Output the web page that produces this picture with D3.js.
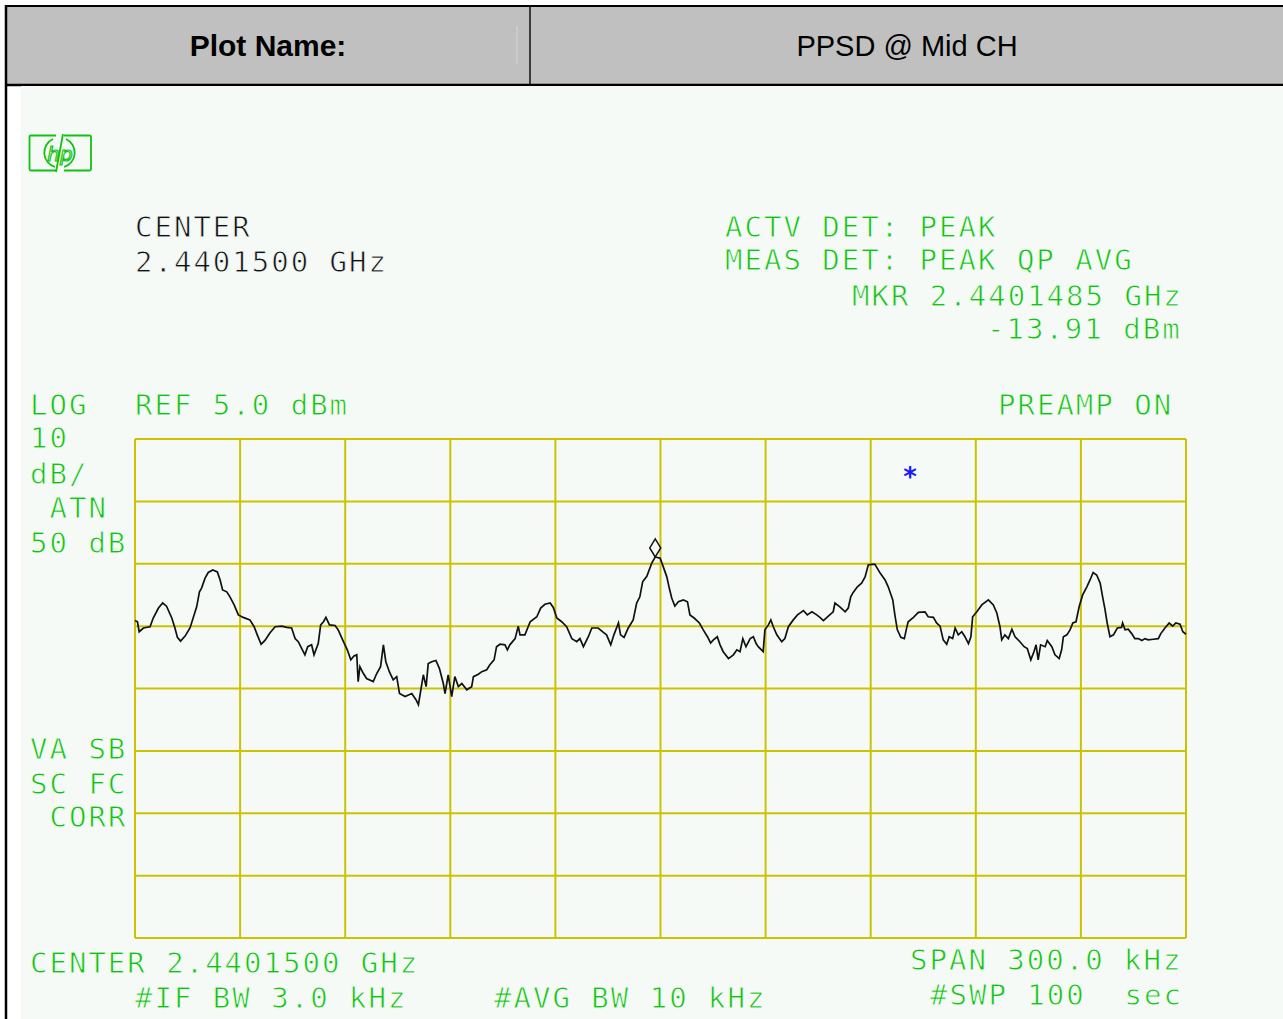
<!DOCTYPE html>
<html>
<head>
<meta charset="utf-8">
<script src="https://cdn.jsdelivr.net/npm/d3@7"></script>
<style>
  html, body { margin: 0; padding: 0; background: #ffffff; }
  svg { display: block; }
</style>
</head>
<body>
<div id="chart"></div>
<script>
// ---------------- data ----------------
// Frequency offset from center (kHz), center = 2.4401500 GHz, span 300 kHz
const freqKHz = [
  -150.0,-149.3,-148.8,-147.6,-145.7,-144.8,-143.3,-142.1,-141.0,-139.5,
  -138.6,-137.9,-137.0,-135.7,-134.3,-133.4,-132.4,-131.6,-131.0,-130.0,
  -129.1,-127.8,-126.5,-125.7,-125.0,-123.8,-122.9,-121.7,-120.5,-119.1,
  -117.2,-116.0,-115.1,-114.0,-112.9,-111.5,-110.0,-108.1,-106.7,-105.3,
  -104.3,-103.4,-102.4,-101.5,-100.7,-99.6,-98.9,-97.7,-97.0,-96.2,
  -95.5,-94.5,-92.9,-92.0,-90.5,-89.4,-88.4,-87.5,-86.7,-86.3,
  -85.8,-84.8,-83.9,-82.0,-81.0,-79.9,-79.1,-78.4,-77.4,-76.3,
  -75.3,-74.5,-72.9,-71.0,-69.8,-69.1,-68.4,-67.7,-66.9,-66.3,
  -65.3,-64.1,-63.1,-62.0,-61.5,-60.6,-59.6,-58.7,-57.7,-56.7,
  -55.3,-53.9,-53.4,-52.0,-51.0,-49.6,-48.7,-47.5,-46.8,-45.8,
  -44.4,-43.7,-43.0,-41.5,-40.6,-40.1,-38.7,-37.2,-35.3,-34.2,
  -33.0,-31.5,-30.6,-29.6,-28.2,-26.8,-25.3,-23.9,-23.0,-22.0,
  -20.6,-19.6,-17.8,-16.3,-15.4,-14.2,-13.3,-12.0,-11.4,-10.4,
  -9.2,-7.8,-6.8,-5.9,-5.1,-3.9,-2.5,-1.5,-0.1,0.8,
  1.8,2.5,3.2,4.1,5.1,6.5,7.7,8.4,9.6,11.1,
  12.2,13.4,14.3,15.1,16.2,17.0,17.9,19.4,20.8,21.8,
  22.7,23.5,24.4,25.6,26.5,27.3,27.9,29.3,29.8,30.8,
  31.5,32.2,33.2,34.6,35.5,36.5,37.9,39.1,40.8,41.9,
  43.2,44.6,45.5,46.5,47.9,49.3,49.8,51.2,52.7,53.6,
  54.3,55.0,56.2,57.4,58.4,59.3,60.3,61.2,62.7,64.1,
  65.0,66.3,66.9,67.6,68.6,69.6,70.3,70.7,72.2,73.6,
  75.5,76.4,77.9,78.8,79.8,80.7,81.7,82.4,83.4,84.1,
  85.0,86.0,86.9,87.9,88.6,89.1,90.3,91.7,93.6,95.0,
  96.0,96.9,97.4,98.3,99.3,100.3,101.2,102.6,103.8,104.7,
  105.7,106.6,107.2,107.8,108.5,109.8,110.4,111.7,112.6,113.8,
  114.5,115.0,116.0,116.9,117.7,118.6,119.5,120.5,121.7,122.6,
  123.5,124.5,125.5,126.2,126.9,127.5,128.3,129.3,130.4,131.6,
  131.9,132.6,133.5,134.5,135.4,136.4,137.4,138.3,139.2,140.7,
  142.1,142.8,144.0,145.2,146.2,147.1,148.3,149.1,150.0
];
// Trace level (dBm)
const levelDbm = [
  -24.1,-24.3,-25.9,-25.3,-25.1,-23.7,-22.1,-21.3,-21.8,-23.7,
  -25.3,-26.8,-27.4,-26.6,-25.3,-23.7,-21.9,-19.5,-18.9,-17.3,
  -16.4,-16.0,-16.3,-17.6,-19.2,-19.5,-20.3,-21.6,-23.2,-23.6,
  -24.0,-25.1,-26.4,-27.9,-27.3,-26.1,-25.1,-25.0,-25.2,-25.3,
  -27.0,-27.5,-28.6,-29.6,-28.3,-28.0,-29.6,-27.8,-24.8,-24.3,
  -23.6,-24.8,-24.9,-25.6,-27.5,-28.8,-30.4,-29.8,-29.6,-33.9,
  -31.5,-32.6,-33.4,-33.9,-32.6,-31.5,-28.0,-30.7,-32.3,-33.6,
  -33.1,-35.8,-36.3,-35.8,-36.8,-37.6,-35.2,-32.8,-34.7,-31.0,
  -30.7,-30.5,-31.8,-34.2,-35.8,-32.8,-36.3,-33.1,-34.7,-34.2,
  -35.2,-34.7,-33.1,-32.7,-32.3,-32.0,-31.2,-30.4,-28.3,-27.9,
  -28.0,-28.8,-28.0,-27.0,-25.0,-26.4,-26.4,-24.3,-23.5,-22.1,
  -21.5,-21.3,-22.0,-23.7,-24.3,-25.1,-27.0,-27.5,-27.0,-28.3,
  -26.7,-25.3,-25.3,-26.0,-26.4,-28.0,-26.4,-24.5,-26.4,-26.8,
  -25.3,-24.0,-21.3,-20.3,-17.9,-17.0,-14.9,-13.9,-14.1,-15.5,
  -17.1,-18.9,-20.5,-21.8,-21.1,-20.8,-21.1,-23.2,-23.7,-24.5,
  -25.6,-26.7,-27.7,-27.2,-26.7,-28.0,-29.1,-30.2,-29.6,-28.8,
  -29.1,-27.0,-28.3,-27.0,-26.7,-27.8,-28.3,-29.1,-25.6,-24.8,
  -24.0,-25.1,-26.4,-27.5,-27.0,-25.1,-24.0,-23.2,-22.5,-23.2,
  -22.7,-23.2,-23.6,-24.1,-23.4,-22.7,-21.3,-21.9,-22.7,-22.1,
  -20.3,-19.6,-18.7,-18.1,-17.1,-15.2,-15.1,-15.1,-16.5,-17.6,
  -18.7,-20.8,-23.2,-25.6,-26.8,-27.0,-25.2,-24.3,-23.6,-22.8,
  -22.7,-23.5,-23.6,-24.5,-25.0,-27.2,-27.9,-26.7,-27.0,-25.3,
  -26.4,-25.9,-26.7,-27.8,-26.7,-23.5,-22.7,-21.6,-20.8,-21.6,
  -22.9,-25.1,-27.2,-26.4,-27.0,-25.5,-26.7,-27.5,-28.3,-28.6,
  -30.4,-29.1,-28.0,-30.4,-28.0,-28.3,-27.3,-28.3,-29.6,-30.2,
  -28.8,-26.7,-26.4,-25.6,-24.5,-24.3,-21.9,-20.0,-18.7,-17.6,
  -16.4,-16.8,-18.1,-20.3,-22.4,-24.5,-26.7,-26.4,-25.3,-25.2,
  -24.5,-25.6,-25.5,-26.2,-27.0,-27.0,-27.3,-27.0,-27.2,-27.1,
  -27.0,-26.2,-25.3,-24.5,-25.0,-24.5,-24.7,-25.9,-26.3
];
const refLevel = 5.0;          // dBm (top of graticule)
const dbPerDiv = 10;
const yDivisions = 8;
const spanKHz = 300;
const xDivisions = 10;
const markerFreqKHz = -1.5;     // 2.4401485 GHz
const markerLevel = -13.91;     // dBm

const headerLabels = ["Plot Name:", "PPSD @ Mid CH"];

// ---------------- drawing ----------------
const W = 1283, H = 1019;
const GREEN = "#12c212", GRID = "#cbc300", PANEL = "#f5faf6";

const svg = d3.select("#chart").append("svg")
  .attr("width", W).attr("height", H)
  .attr("viewBox", `0 0 ${W} ${H}`);

svg.append("rect").attr("width", W).attr("height", H).attr("fill", "#ffffff");

// header table
svg.append("rect").attr("x", 7).attr("y", 6).attr("width", W - 7).attr("height", 78)
  .attr("fill", "#c0c0c0");
svg.append("line").attr("x1", 5).attr("x2", W).attr("y1", 6).attr("y2", 6)
  .attr("stroke", "#000").attr("stroke-width", 2);
svg.append("line").attr("x1", 5).attr("x2", W).attr("y1", 85).attr("y2", 85)
  .attr("stroke", "#000").attr("stroke-width", 2.5);
svg.append("line").attr("x1", 530).attr("x2", 530).attr("y1", 6).attr("y2", 85)
  .attr("stroke", "#111").attr("stroke-width", 1.5);
svg.append("line").attr("x1", 517).attr("x2", 517).attr("y1", 26).attr("y2", 64)
  .attr("stroke", "#d6d6d6").attr("stroke-width", 1);

svg.append("text").attr("x", 268).attr("y", 56).attr("text-anchor", "middle")
  .attr("font-family", "Liberation Sans, Arial, sans-serif").attr("font-weight", "bold")
  .attr("font-size", 30).attr("fill", "#000").text(headerLabels[0]);
svg.append("text").attr("x", 907).attr("y", 56).attr("text-anchor", "middle")
  .attr("font-family", "Liberation Sans, Arial, sans-serif")
  .attr("font-size", 29).attr("fill", "#000").text(headerLabels[1]);

// instrument screen panel
svg.append("rect").attr("x", 21).attr("y", 86).attr("width", W - 21).attr("height", H - 86)
  .attr("fill", PANEL);
svg.append("line").attr("x1", 6).attr("x2", 6).attr("y1", 5).attr("y2", H)
  .attr("stroke", "#000").attr("stroke-width", 2.5);

// scales
const x = d3.scaleLinear().domain([-spanKHz / 2, spanKHz / 2]).range([135, 1186]);
const y = d3.scaleLinear().domain([refLevel - yDivisions * dbPerDiv, refLevel]).range([938, 439]);

// graticule
const g = svg.append("g");
const xTicks = d3.range(xDivisions + 1).map(i => -spanKHz / 2 + i * spanKHz / xDivisions);
const yTicks = d3.range(yDivisions + 1).map(i => refLevel - i * dbPerDiv);
g.selectAll("line.v").data(xTicks).join("line").attr("class", "v")
  .attr("x1", d => x(d)).attr("x2", d => x(d))
  .attr("y1", y.range()[1]).attr("y2", y.range()[0])
  .attr("stroke", GRID).attr("stroke-width", 2);
g.selectAll("line.h").data(yTicks).join("line").attr("class", "h")
  .attr("x1", x.range()[0]).attr("x2", x.range()[1])
  .attr("y1", d => y(d)).attr("y2", d => y(d))
  .attr("stroke", GRID).attr("stroke-width", 2);

// trace
const pts = freqKHz.map((f, i) => [f, levelDbm[i]]);
svg.append("path").datum(pts)
  .attr("d", d3.line().x(d => x(d[0])).y(d => y(d[1])))
  .attr("fill", "none").attr("stroke", "#111").attr("stroke-width", 1.7)
  .attr("stroke-linejoin", "miter");

// marker diamond (bottom vertex sits on marker point)
const mx = x(markerFreqKHz), my = y(markerLevel);
svg.append("path")
  .attr("d", `M${mx},${my} L${mx + 5.5},${my - 9} L${mx},${my - 18} L${mx - 5.5},${my - 9} Z`)
  .attr("fill", "none").attr("stroke", "#111").attr("stroke-width", 1.5);

// blue asterisk
svg.append("text").attr("x", 910).attr("y", 486).attr("text-anchor", "middle")
  .attr("font-family", "DejaVu Sans Mono, monospace").attr("font-weight", "bold")
  .attr("font-size", 26).attr("fill", "#1a1aff").text("*");

// HP logo
const logo = svg.append("g").attr("fill", "none").attr("stroke", GREEN).attr("stroke-width", 1.8);
logo.append("path").attr("d", "M56,135.5 L31,135.5 Q29.5,135.5 29.5,137 L29.5,169 Q29.5,170.5 31,170.5 L56,170.5");
logo.append("path").attr("d", "M64,135.5 L89.5,135.5 Q91,135.5 91,137 L91,169 Q91,170.5 89.5,170.5 L64,170.5");
logo.append("path").attr("d", "M53,139 A15,15 0 0 0 55,167");
logo.append("path").attr("d", "M66,139 A15,15 0 0 1 64,167");
svg.append("text").attr("x", 60).attr("y", 161).attr("text-anchor", "middle")
  .attr("font-family", "DejaVu Sans, sans-serif").attr("font-style", "italic")
  .attr("font-size", 20).attr("fill", "none").attr("stroke", GREEN).attr("stroke-width", 1.2)
  .text("hp");
logo.append("line").attr("x1", 63).attr("y1", 134).attr("x2", 56).attr("y2", 172);

// instrument annotation text
const annotations = [
  { t: "CENTER", x: 135, y: 237, c: "#111" },
  { t: "2.4401500 GHz", x: 135, y: 272, c: "#111" },
  { t: "ACTV DET: PEAK", x: 725, y: 237, c: GREEN },
  { t: "MEAS DET: PEAK QP AVG", x: 725, y: 270, c: GREEN },
  { t: "MKR 2.4401485 GHz", x: 852, y: 306, c: GREEN },
  { t: "-13.91 dBm", x: 987, y: 339, c: GREEN },
  { t: "LOG", x: 30, y: 415, c: GREEN },
  { t: "REF 5.0 dBm", x: 135, y: 415, c: GREEN },
  { t: "PREAMP ON", x: 998, y: 415, c: GREEN },
  { t: "10", x: 30, y: 448, c: GREEN },
  { t: "dB/", x: 30, y: 484, c: GREEN },
  { t: "ATN", x: 49.5, y: 518, c: GREEN },
  { t: "50 dB", x: 30, y: 553, c: GREEN },
  { t: "VA SB", x: 30, y: 759, c: GREEN },
  { t: "SC FC", x: 30, y: 794, c: GREEN },
  { t: "CORR", x: 49.5, y: 827, c: GREEN },
  { t: "CENTER 2.4401500 GHz", x: 30, y: 973, c: GREEN },
  { t: "#IF BW 3.0 kHz", x: 135, y: 1008, c: GREEN },
  { t: "#AVG BW 10 kHz", x: 494, y: 1008, c: GREEN },
  { t: "SPAN 300.0 kHz", x: 910, y: 970, c: GREEN },
  { t: "#SWP 100  sec", x: 930, y: 1005, c: GREEN }
];
svg.append("g").selectAll("text").data(annotations).join("text")
  .attr("x", d => d.x).attr("y", d => d.y)
  .attr("font-family", "DejaVu Sans Mono, monospace")
  .attr("font-size", 29).attr("letter-spacing", 2.0)
  .attr("fill", d => d.c)
  .attr("stroke", PANEL).attr("stroke-width", 0.8)
  .style("white-space", "pre")
  .attr("xml:space", "preserve")
  .text(d => d.t);
</script>
</body>
</html>
